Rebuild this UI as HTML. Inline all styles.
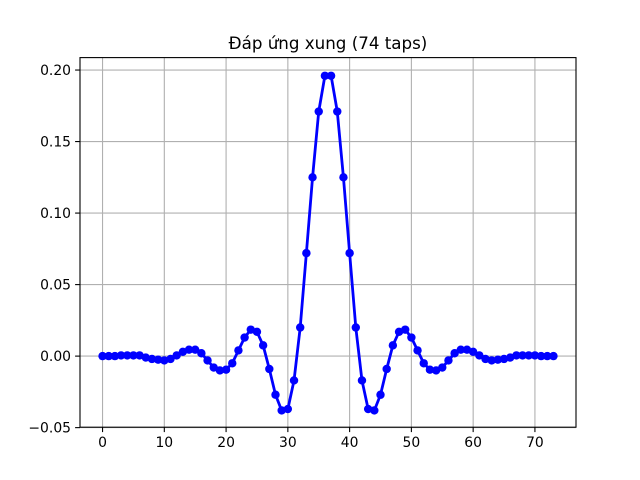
<!DOCTYPE html>
<html><head><meta charset="utf-8"><style>
body{margin:0;background:#fff;}
svg{display:block;font-family:"DejaVu Sans","Liberation Sans",sans-serif;}
</style></head><body>
<svg id="chart" width="640" height="480">
<rect width="640" height="480" fill="#fff"/>
<text x="328" y="49" text-anchor="middle" font-size="16.7">Đáp ứng xung (74 taps)</text>
<g id="grid"></g><g id="ticks"></g><g id="series"></g>
<rect x="80" y="57.6" width="496" height="369.6" fill="none" stroke="#000" stroke-width="1.1"/>
</svg>
<script>
const values = [0,0,0,0.0005,0.0005,0.0005,0.0005,-0.001,-0.002,-0.0025,-0.003,-0.002,0.0005,0.003,0.0045,0.0045,0.002,-0.003,-0.008,-0.010,-0.0095,-0.005,0.004,0.013,0.0185,0.017,0.0075,-0.009,-0.027,-0.038,-0.037,-0.017,0.020,0.072,0.125,0.171,0.196,
0.196,0.171,0.125,0.072,0.020,-0.017,-0.037,-0.038,-0.027,-0.009,0.0075,0.017,0.0185,0.013,0.004,-0.005,-0.0095,-0.010,-0.008,-0.003,0.002,0.0045,0.0045,0.003,0.0005,-0.002,-0.003,-0.0025,-0.002,-0.001,0.0005,0.0005,0.0005,0.0005,0,0,0];
const xTicks = [0,10,20,30,40,50,60,70];
const yTicks = [-0.05,0,0.05,0.10,0.15,0.20];
const yTickLabels = ["−0.05","0.00","0.05","0.10","0.15","0.20"];
const NS="http://www.w3.org/2000/svg";
const L=80,R=576,T=57.6,B=427.2;
const n=values.length, xm=(n-1)*0.05;
const x0=-xm, x1=n-1+xm;
const y0=-0.0497, y1=0.2087;
const sx=v=>L+(v-x0)/(x1-x0)*(R-L);
const sy=v=>B-(v-y0)/(y1-y0)*(B-T);
function mk(tag,attrs,parent){const e=document.createElementNS(NS,tag);for(const k in attrs)e.setAttribute(k,attrs[k]);parent.appendChild(e);return e;}
const grid=document.getElementById('grid'),ticks=document.getElementById('ticks'),ser=document.getElementById('series');
xTicks.forEach(t=>{const x=sx(t);
 const g=mk('line',{x1:x,x2:x,y1:T,y2:B,stroke:'#b0b0b0','stroke-width':1.1},grid);
 
 
 mk('line',{x1:x,x2:x,y1:B,y2:B+4.9,stroke:'#000','stroke-width':1.1},ticks);
 const tx=mk('text',{x:x,y:B+20,'text-anchor':'middle','font-size':13.9},ticks);tx.textContent=t;
 
 
});
yTicks.forEach((t,i)=>{const y=sy(t);
 const g=mk('line',{x1:L,x2:R,y1:y,y2:y,stroke:'#b0b0b0','stroke-width':1.1},grid);
 
 
 mk('line',{x1:L-4.9,x2:L,y1:y,y2:y,stroke:'#000','stroke-width':1.1},ticks);
 const tx=mk('text',{x:L-9,y:y+5,'text-anchor':'end','font-size':13.9},ticks);tx.textContent=yTickLabels[i];
 
 
});
const pts=values.map((v,i)=>sx(i).toFixed(2)+','+sy(v).toFixed(2)).join(' ');
const line=mk('polyline',{points:pts,fill:'none',stroke:'#0000ff','stroke-width':2.8,'stroke-linejoin':'round'},ser);


values.forEach((v,i)=>{const c=mk('circle',{cx:sx(i),cy:sy(v),r:4.2,fill:'#0000ff'},ser);
 
 
});
</script>
</body></html>
